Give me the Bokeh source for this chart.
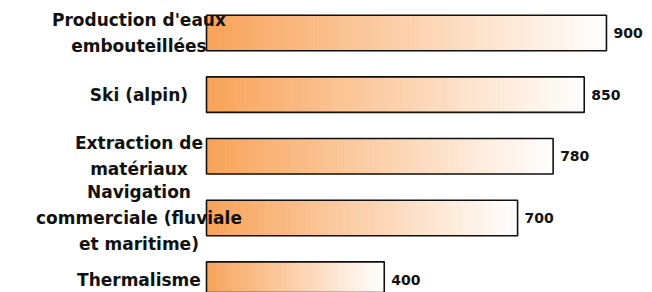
import numpy as np
from bokeh.plotting import figure
from bokeh.models import Range1d, ColumnDataSource
from bokeh.embed import file_html
from bokeh.resources import INLINE
from bokeh.core.properties import value

# ---- data ----
categories = [
    "Production d'eaux\nembouteillées",
    "Ski (alpin)",
    "Extraction de\nmatériaux",
    "Navigation\ncommerciale (fluviale\net maritime)",
    "Thermalisme",
]
values = [900, 850, 780, 700, 400]
value_labels = ["900", "850", "780", "700", "400"]

# ---- layout / style ----
W, H = 652, 292
PX_PER_UNIT = 0.4444
ZERO_PX = 206
ROW_PX = 61.65
FIRST_PX = 32.5
BAR_H = 0.576
LABEL_X = -152
N_SLICES = 90
C0 = np.array([248, 162, 88])
C1 = np.array([255, 255, 255])

x_start = -ZERO_PX / PX_PER_UNIT
x_end = (W - ZERO_PX) / PX_PER_UNIT
y_top = -FIRST_PX / ROW_PX
y_bottom = (H - FIRST_PX) / ROW_PX

p = figure(width=W, height=H, output_backend="svg", toolbar_location=None,
           x_range=Range1d(x_start, x_end), y_range=Range1d(y_bottom, y_top),
           min_border=0)
p.axis.visible = False
p.grid.visible = False
p.outline_line_color = None
p.background_fill_color = "white"
p.border_fill_color = "white"

ypos = list(range(len(categories)))

# gradient fill: slices of each bar, orange -> white along the bar length
sy, sl, sr, sc = [], [], [], []
for i, v in enumerate(values):
    for j in range(N_SLICES):
        t = (j + 0.5) / N_SLICES
        c = (C0 * (1 - t) + C1 * t).round().astype(int)
        sy.append(ypos[i])
        sl.append(v * j / N_SLICES)
        sr.append(v * (j + 1) / N_SLICES)
        sc.append("#%02x%02x%02x" % tuple(c))
src = ColumnDataSource(dict(y=sy, left=sl, right=sr, color=sc))
p.hbar(y="y", left="left", right="right", height=BAR_H, fill_color="color",
       line_color="color", line_width=0.8, source=src)

# outline
p.hbar(y=ypos, left=0, right=values, height=BAR_H, fill_color=None,
       line_color="#111111", line_width=1.6)

# value labels
p.text(x=values, y=ypos, text=value_labels, x_offset=7, text_align="left",
       text_baseline="middle", text_font=value("DejaVu Sans"),
       text_font_style="bold", text_font_size="14px", text_color="#111111")

# category labels
p.text(x=[LABEL_X] * len(categories), y=ypos, text=categories,
       text_align="center", text_baseline="middle",
       text_font=value("DejaVu Sans"), text_font_style="bold",
       text_font_size="17px", text_line_height=1.3, text_color="#111111")

open("out.html", "w").write(file_html(p, INLINE))
